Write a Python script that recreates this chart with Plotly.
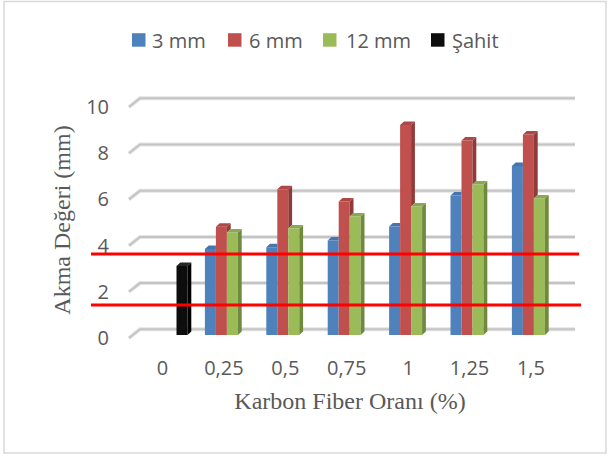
import plotly.graph_objects as go

# ---------------- data ----------------
categories = ["0", "0,25", "0,5", "0,75", "1", "1,25", "1,5"]
series_names = ["3 mm", "6 mm", "12 mm", "Şahit"]
mm3 = [None, 3.72, 3.80, 4.09, 4.70, 6.04, 7.32]
mm6 = [None, 4.69, 6.31, 5.78, 9.09, 8.42, 8.68]
mm12 = [None, 4.44, 4.61, 5.13, 5.56, 6.52, 5.91]
sahit = [2.99, None, None, None, None, None, None]
y_ticks = [0, 2, 4, 6, 8, 10]
ref_lines = [3.51, 1.30]          # red reference lines (y values)

front_colors = ["#4F81BD", "#C0504D", "#9BBB59", "#0D0D0D"]
side_colors = ["#3A6291", "#8E3B39", "#6F8A3E", "#000000"]
top_colors = ["#4574AE", "#AD4845", "#8AA94F", "#262626"]

# ---------------- geometry (pixels) ----------------
W, H = 611, 456
L, R, T, B = 120, 31, 95, 111
PX_X = 61.4       # pixels per category
PX_Y = 23.1       # pixels per value unit
X0_PX = 165.5     # pixel x of category 0
Y0_PX = 335.0     # pixel y of value 0 (bar base)
PW, PH = W - L - R, H - T - B

x_range = [(L - X0_PX) / PX_X, (W - R - X0_PX) / PX_X]
y_range = [(Y0_PX - (H - B)) / PX_Y, (Y0_PX - T) / PX_Y]

def px_to_x(px):
    return (px - X0_PX) / PX_X

def px_to_paper_x(px):
    return (px - L) / PW

def py_to_paper_y(py):
    return (H - B - py) / PH

bargap = 1 - 4 * 11 / PX_X
slot = (1 - bargap) / 4
ddx = 3.8 / PX_X
ddy = 3.5 / PX_Y

series = [mm3, mm6, mm12, sahit]
x_idx = list(range(len(categories)))

fig = go.Figure()
for k, (name, vals) in enumerate(zip(series_names, series)):
    fig.add_trace(go.Bar(
        x=x_idx, y=vals, name=name,
        marker=dict(color=front_colors[k], line=dict(width=0)),
        showlegend=False,
    ))

# 3D side and top faces derived from the data
for k, vals in enumerate(series):
    nxt_series = series[k + 1] if k < 2 else None
    sx, sy, tx, ty = [], [], [], []
    for i, v in enumerate(vals):
        if v is None:
            continue
        left = i + (k - 2) * slot
        right = left + slot
        nxt = nxt_series[i] if nxt_series is not None else None
        # side face
        if nxt is None or nxt < v:
            lo = 0 if nxt is None else nxt
            sx += [right, right + ddx, right + ddx, right, right, None]
            sy += [lo, lo + ddy, v + ddy, v, lo, None]
        # top face
        if nxt is not None and nxt > v:
            tx += [left, left + ddx, right, right, left, None]
            ty += [v, v + ddy, v + ddy, v, v, None]
        else:
            tx += [left, left + ddx, right + ddx, right, left, None]
            ty += [v, v + ddy, v + ddy, v, v, None]
    if sx:
        fig.add_trace(go.Scatter(x=sx, y=sy, mode="lines", fill="toself",
                                 fillcolor=side_colors[k], line=dict(width=0),
                                 hoverinfo="skip", showlegend=False))
    fig.add_trace(go.Scatter(x=tx, y=ty, mode="lines", fill="toself",
                             fillcolor=top_colors[k], line=dict(width=0),
                             hoverinfo="skip", showlegend=False))

# back-wall gridlines with floor diagonal
shapes = []
gx_front, gx_back, gx_end = px_to_x(129), px_to_x(140), px_to_x(575)
for v in y_ticks:
    yf = v - 3.0 / PX_Y
    yb = v + 5.7 / PX_Y
    shapes.append(dict(type="path", xref="x", yref="y", layer="below",
                       path=f"M{gx_front},{yf} L{gx_back},{yb} L{gx_end},{yb}",
                       line=dict(color="#E4E4E4", width=4)))
    shapes.append(dict(type="path", xref="x", yref="y", layer="below",
                       path=f"M{gx_front},{yf} L{gx_back},{yb} L{gx_end},{yb}",
                       line=dict(color="#C4C4C4", width=2)))

# red reference lines
for yv, xe in zip(ref_lines, [579, 581]):
    shapes.append(dict(type="line", xref="paper", yref="y", layer="above",
                       x0=px_to_paper_x(91), x1=px_to_paper_x(xe), y0=yv, y1=yv,
                       line=dict(color="#FF0000", width=3)))

# chart border
shapes.append(dict(type="rect", xref="paper", yref="paper", layer="below",
                   x0=px_to_paper_x(4), x1=px_to_paper_x(606),
                   y0=py_to_paper_y(453), y1=py_to_paper_y(1.5),
                   line=dict(color="#D9D9D9", width=1.5), fillcolor="rgba(0,0,0,0)"))

# manual legend
legend_sq = [132, 228, 323, 431]
legend_tx = [150, 246.5, 343.5, 450]
annotations = []
for k, name in enumerate(series_names):
    shapes.append(dict(type="rect", xref="paper", yref="paper",
                       x0=px_to_paper_x(legend_sq[k]), x1=px_to_paper_x(legend_sq[k] + 13.5),
                       y0=py_to_paper_y(46.7), y1=py_to_paper_y(33.2),
                       line=dict(width=0), fillcolor=front_colors[k]))
    annotations.append(dict(xref="paper", yref="paper",
                            x=px_to_paper_x(legend_tx[k]), y=py_to_paper_y(40),
                            xanchor="left", yanchor="middle", showarrow=False,
                            text=name,
                            font=dict(family="Open Sans", size=20, color="#595959")))

tick_font = dict(family="Open Sans", size=20, color="#595959")
title_font = dict(family="Liberation Serif", size=24, color="#595959")

fig.update_layout(
    width=W, height=H,
    margin=dict(l=L, r=R, t=T, b=B, pad=0),
    paper_bgcolor="white", plot_bgcolor="white",
    barmode="group", bargap=bargap, bargroupgap=0,
    shapes=shapes, annotations=annotations,
    showlegend=False,
    xaxis=dict(range=x_range, tickvals=x_idx, ticktext=categories,
               showgrid=False, zeroline=False, showline=False, ticks="",
               tickfont=tick_font, ticklabelstandoff=9, ticklabelshift=-3,
               title=dict(text="Karbon Fiber Oranı (%)", font=title_font, standoff=12)),
    yaxis=dict(range=y_range, tickvals=y_ticks,
               showgrid=False, zeroline=False, showline=False, ticks="",
               tickfont=tick_font, ticklabelstandoff=10, ticklabelshift=3,
               title=dict(text="Akma Değeri (mm)", font=title_font, standoff=8)),
)

fig.write_html("out.html")
